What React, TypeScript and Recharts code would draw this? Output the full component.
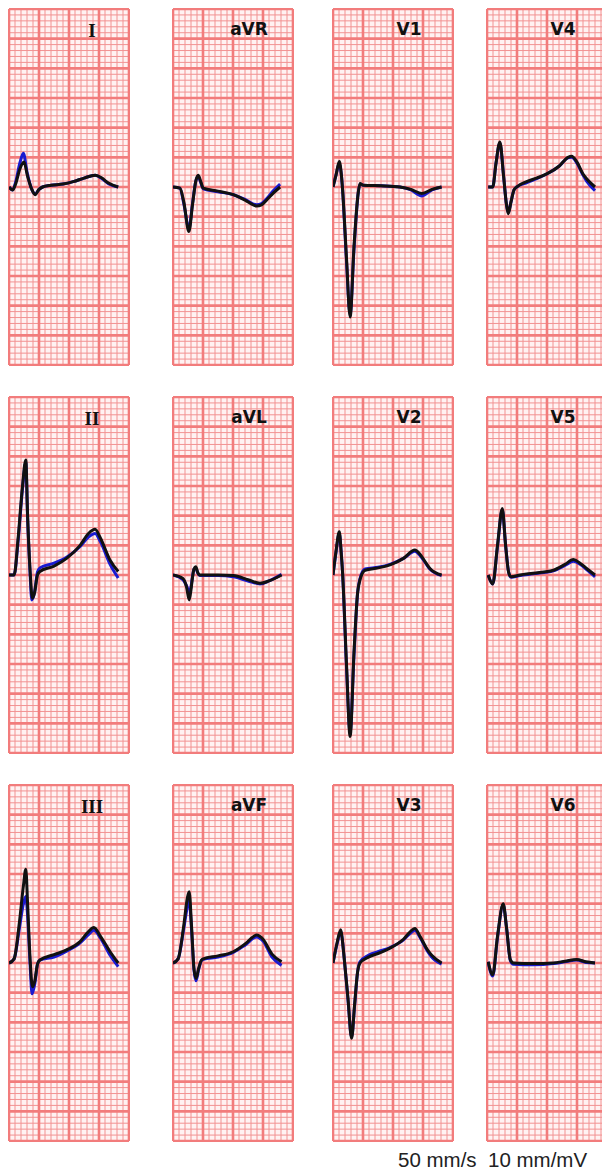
import React from "react";
import { LineChart, Line, XAxis, YAxis, CartesianGrid, ReferenceLine } from "recharts";

// 50 mm/s, 10 mm/mV: one big box = 100 ms wide, 0.5 mV tall
const MAJOR_MS = [0, 100, 200, 300, 400];
const MAJOR_MV = [-3, -2.5, -2, -1.5, -1, -0.5, 0, 0.5, 1, 1.5, 2, 2.5, 3];
const steps = (from: number, to: number, step: number) => {
  const out: number[] = [];
  for (let v = from; v <= to + 1e-9; v += step) out.push(Math.round(v * 100) / 100);
  return out;
};
const MINOR_MS = steps(0, 400, 20);
const MINOR_MV = steps(-3, 3, 0.1);

type Pt = [number, number]; // [ms, mV]

// black = averaged beat, blue = overlaid beat
const LEAD_I: Pt[] = [[0, 0], [12, -0.05], [22, 0.05], [36, 0.3], [50, 0.42], [62, 0.18], [76, -0.04], [87, -0.13], [100, -0.04], [112, 0], [140, 0.03], [180, 0.05], [214, 0.09], [250, 0.15], [287, 0.2], [310, 0.15], [330, 0.07], [364, 0]];
const LEAD_I_B: Pt[] = [[0, 0], [12, -0.05], [22, 0.08], [36, 0.4], [48, 0.57], [60, 0.25], [76, -0.04], [87, -0.12], [100, -0.04], [112, 0], [140, 0.03], [180, 0.05], [214, 0.09], [250, 0.15], [287, 0.2], [310, 0.14], [330, 0.06], [364, 0]];

const LEAD_AVR: Pt[] = [[0, 0], [23, -0.02], [36, -0.25], [53, -0.75], [65, -0.3], [76, 0.1], [84, 0.2], [92, 0.1], [101, -0.02], [150, -0.07], [201, -0.13], [240, -0.22], [279, -0.32], [295, -0.3], [312, -0.22], [335, -0.1], [357, 0]];
const LEAD_AVR_B: Pt[] = [[0, 0], [23, -0.02], [36, -0.28], [53, -0.7], [65, -0.28], [76, 0.1], [84, 0.18], [92, 0.08], [101, -0.03], [150, -0.08], [201, -0.13], [240, -0.21], [279, -0.3], [295, -0.28], [312, -0.2], [335, -0.06], [357, 0.05]];

const LEAD_V1: Pt[] = [[0, 0], [10, 0.2], [21, 0.43], [28, 0.2], [32, -0.05], [45, -1.2], [57, -2.19], [70, -1.0], [84, -0.1], [90, 0.06], [101, 0.03], [160, 0.02], [223, 0], [260, -0.04], [296, -0.11], [330, -0.04], [362, 0]];
const LEAD_V1_B: Pt[] = [[0, 0], [10, 0.2], [21, 0.4], [28, 0.2], [32, -0.05], [45, -1.25], [57, -2.15], [70, -1.05], [84, -0.1], [90, 0.05], [101, 0.03], [160, 0.02], [223, 0], [260, -0.05], [296, -0.15], [330, -0.05], [362, 0]];

const LEAD_V4: Pt[] = [[4, 0], [19, 0], [30, 0.4], [43, 0.76], [55, 0.2], [65, -0.3], [71, -0.45], [80, -0.25], [90, -0.05], [99, 0], [132, 0.09], [165, 0.15], [199, 0.22], [240, 0.35], [270, 0.5], [282, 0.52], [300, 0.42], [320, 0.22], [332, 0.14], [360, 0]];
const LEAD_V4_B: Pt[] = [[4, 0], [19, 0], [30, 0.4], [43, 0.74], [55, 0.2], [65, -0.3], [71, -0.43], [80, -0.25], [90, -0.05], [99, 0], [132, 0.07], [165, 0.14], [199, 0.22], [240, 0.35], [270, 0.49], [282, 0.5], [300, 0.4], [320, 0.2], [332, 0.1], [360, -0.06]];

const LEAD_II: Pt[] = [[0, 0], [17, 0], [30, 0.6], [45, 1.5], [56, 1.94], [62, 1.0], [70, 0.1], [78, -0.39], [85, -0.3], [95, 0], [103, 0.06], [150, 0.15], [192, 0.28], [237, 0.5], [265, 0.7], [287, 0.77], [305, 0.62], [337, 0.25], [364, 0.06]];
const LEAD_II_B: Pt[] = [[0, 0], [17, 0], [30, 0.55], [45, 1.45], [56, 1.9], [62, 0.95], [70, 0.05], [76, -0.42], [85, -0.3], [95, 0.05], [103, 0.12], [150, 0.2], [192, 0.3], [237, 0.48], [265, 0.64], [287, 0.7], [305, 0.56], [337, 0.18], [364, -0.05]];

const LEAD_AVL: Pt[] = [[0, 0], [33, -0.06], [45, -0.2], [54, -0.42], [60, -0.25], [64, -0.08], [70, 0.1], [76, 0.14], [82, 0.05], [89, 0], [150, 0], [201, -0.01], [250, -0.08], [290, -0.14], [320, -0.1], [362, 0]];
const LEAD_AVL_B: Pt[] = [[0, 0], [33, -0.08], [45, -0.18], [54, -0.28], [60, -0.2], [64, -0.06], [70, 0.1], [76, 0.12], [82, 0.04], [89, -0.01], [150, -0.01], [201, -0.03], [250, -0.1], [290, -0.15], [320, -0.1], [362, 0.01]];

const LEAD_V2: Pt[] = [[0, 0], [10, 0.4], [21, 0.73], [27, 0.4], [32, 0.03], [45, -1.5], [57, -2.72], [70, -1.3], [82, -0.3], [90, -0.08], [107, 0.08], [150, 0.12], [190, 0.17], [235, 0.28], [273, 0.42], [290, 0.35], [310, 0.2], [323, 0.11], [362, 0]];
const LEAD_V2_B: Pt[] = [[0, 0], [10, 0.38], [21, 0.7], [27, 0.4], [32, 0.03], [45, -1.55], [57, -2.65], [70, -1.35], [82, -0.3], [90, -0.06], [107, 0.1], [150, 0.13], [190, 0.18], [235, 0.28], [273, 0.4], [290, 0.33], [310, 0.19], [323, 0.1], [362, -0.01]];

const LEAD_V5: Pt[] = [[4, 0], [19, -0.15], [35, 0.5], [51, 1.12], [62, 0.5], [72, 0.05], [80, -0.03], [110, 0], [154, 0.03], [221, 0.08], [260, 0.18], [288, 0.26], [310, 0.2], [332, 0.11], [360, 0]];
const LEAD_V5_B: Pt[] = [[4, 0], [19, -0.15], [35, 0.48], [51, 1.1], [62, 0.5], [72, 0.05], [80, -0.04], [110, -0.01], [154, 0.02], [221, 0.07], [260, 0.16], [288, 0.23], [310, 0.18], [332, 0.09], [360, -0.03]];

const LEAD_III: Pt[] = [[0, 0], [17, 0.07], [35, 0.7], [48, 1.3], [56, 1.58], [62, 1.0], [70, 0.1], [78, -0.4], [86, -0.3], [95, -0.02], [103, 0.05], [150, 0.14], [192, 0.22], [237, 0.36], [265, 0.53], [283, 0.6], [305, 0.45], [337, 0.19], [364, 0]];
const LEAD_III_B: Pt[] = [[0, 0], [17, 0.07], [35, 0.6], [48, 1.0], [56, 1.12], [62, 0.8], [70, 0.0], [77, -0.52], [86, -0.35], [95, -0.02], [103, 0.05], [150, 0.1], [192, 0.2], [237, 0.34], [265, 0.48], [283, 0.55], [305, 0.42], [337, 0.13], [364, -0.06]];

const LEAD_AVF: Pt[] = [[0, 0], [17, 0.07], [35, 0.6], [48, 1.1], [54, 1.2], [62, 0.6], [70, -0.1], [77, -0.26], [85, -0.1], [95, 0.05], [101, 0.07], [150, 0.12], [201, 0.19], [240, 0.32], [279, 0.47], [300, 0.4], [330, 0.15], [362, 0.02]];
const LEAD_AVF_B: Pt[] = [[0, 0], [17, 0.07], [35, 0.55], [48, 0.95], [54, 1.05], [62, 0.55], [70, -0.12], [77, -0.3], [85, -0.12], [95, 0.04], [101, 0.06], [150, 0.1], [201, 0.18], [240, 0.3], [279, 0.44], [300, 0.37], [330, 0.1], [362, -0.04]];

const LEAD_V3: Pt[] = [[0, 0], [14, 0.35], [26, 0.56], [32, 0.35], [37, 0.1], [50, -0.6], [62, -1.27], [72, -0.7], [82, -0.15], [90, 0], [118, 0.1], [150, 0.16], [190, 0.25], [235, 0.4], [262, 0.55], [273, 0.58], [290, 0.45], [315, 0.22], [329, 0.13], [362, 0]];
const LEAD_V3_B: Pt[] = [[0, 0], [14, 0.33], [26, 0.54], [32, 0.35], [37, 0.1], [50, -0.62], [62, -1.25], [72, -0.72], [82, -0.15], [90, 0.02], [118, 0.13], [150, 0.19], [190, 0.26], [235, 0.39], [262, 0.52], [273, 0.55], [290, 0.43], [315, 0.2], [329, 0.1], [362, -0.02]];

const LEAD_V6: Pt[] = [[4, 0.02], [19, -0.2], [35, 0.45], [54, 1.0], [65, 0.6], [78, 0.05], [88, 0], [154, -0.01], [221, 0], [260, 0.03], [299, 0.06], [330, 0.02], [360, 0]];
const LEAD_V6_B: Pt[] = [[4, 0.02], [19, -0.22], [35, 0.43], [54, 0.98], [65, 0.6], [78, 0.04], [88, -0.02], [154, -0.03], [221, -0.01], [260, 0.02], [299, 0.05], [330, 0.01], [360, 0]];

const COL_X = [9, 173, 333, 487];
const ROW_Y = [9, 397, 785];
const PANEL_W = 120;
const PANEL_H = 356;

const LEADS = [
  { name: "I", col: 0, row: 0, black: LEAD_I, blue: LEAD_I_B, serif: true },
  { name: "II", col: 0, row: 1, black: LEAD_II, blue: LEAD_II_B, serif: true },
  { name: "III", col: 0, row: 2, black: LEAD_III, blue: LEAD_III_B, serif: true },
  { name: "aVR", col: 1, row: 0, black: LEAD_AVR, blue: LEAD_AVR_B },
  { name: "aVL", col: 1, row: 1, black: LEAD_AVL, blue: LEAD_AVL_B },
  { name: "aVF", col: 1, row: 2, black: LEAD_AVF, blue: LEAD_AVF_B },
  { name: "V1", col: 2, row: 0, black: LEAD_V1, blue: LEAD_V1_B },
  { name: "V2", col: 2, row: 1, black: LEAD_V2, blue: LEAD_V2_B },
  { name: "V3", col: 2, row: 2, black: LEAD_V3, blue: LEAD_V3_B },
  { name: "V4", col: 3, row: 0, black: LEAD_V4, blue: LEAD_V4_B },
  { name: "V5", col: 3, row: 1, black: LEAD_V5, blue: LEAD_V5_B },
  { name: "V6", col: 3, row: 2, black: LEAD_V6, blue: LEAD_V6_B },
];

const MINOR = "#f29292";
const MAJOR = "#f27c7c";

const toRows = (pts: Pt[]) => pts.map(([t, v]) => ({ t, v }));

function LeadPanel({ lead }: { lead: (typeof LEADS)[number] }) {
  const left = COL_X[lead.col];
  const top = ROW_Y[lead.row];
  const labelX = lead.col === 0 ? 83 : 76;
  return (
    <div style={{ position: "absolute", left: left - 1, top: top - 1 }}>
      <LineChart width={PANEL_W + 2} height={PANEL_H + 2} margin={{ top: 1, right: 1, bottom: 1, left: 1 }}>
        <XAxis type="number" dataKey="t" domain={[0, 400]} ticks={MINOR_MS} interval={0} hide allowDataOverflow />
        <YAxis type="number" domain={[-3, 3]} ticks={MINOR_MV} interval={0} hide allowDataOverflow />
        <CartesianGrid stroke={MINOR} strokeWidth={1} fill="#fff2f2" />
        {MAJOR_MS.map((x) => (
          <ReferenceLine key={"x" + x} x={x} stroke={MAJOR} strokeWidth={2.6} />
        ))}
        {MAJOR_MV.map((y) => (
          <ReferenceLine key={"y" + y} y={y} stroke={MAJOR} strokeWidth={2.6} />
        ))}
        <Line data={toRows(lead.blue)} dataKey="v" type="monotoneX" stroke="#1a1ad0" strokeWidth={3} dot={false} isAnimationActive={false} strokeLinejoin="round" />
        <Line data={toRows(lead.black)} dataKey="v" type="monotoneX" stroke="#111111" strokeWidth={3} dot={false} isAnimationActive={false} strokeLinejoin="round" />
      </LineChart>
      <div
        style={{
          position: "absolute",
          left: 1 + labelX - 30,
          width: 60,
          textAlign: "center",
          top: 13,
          lineHeight: 1,
          fontFamily: lead.serif ? "'Liberation Serif', serif" : "'DejaVu Sans', sans-serif",
          fontWeight: "bold",
          fontSize: lead.serif ? 19 : 17,
          color: "#111",
        }}
      >
        {lead.name}
      </div>
    </div>
  );
}

export default function App() {
  return (
    <div style={{ position: "absolute", left: 0, top: 0, width: 602, height: 1171, overflow: "hidden", background: "#fff" }}>
      {LEADS.map((lead) => (
        <LeadPanel key={lead.name} lead={lead} />
      ))}
      <div
        style={{
          position: "absolute",
          left: 398,
          top: 1150,
          fontFamily: "'Liberation Sans', Arial, sans-serif",
          fontSize: 20.5,
          lineHeight: 1,
          color: "#222",
          whiteSpace: "pre",
        }}
      >
        {"50 mm/s  10 mm/mV"}
      </div>
    </div>
  );
}
